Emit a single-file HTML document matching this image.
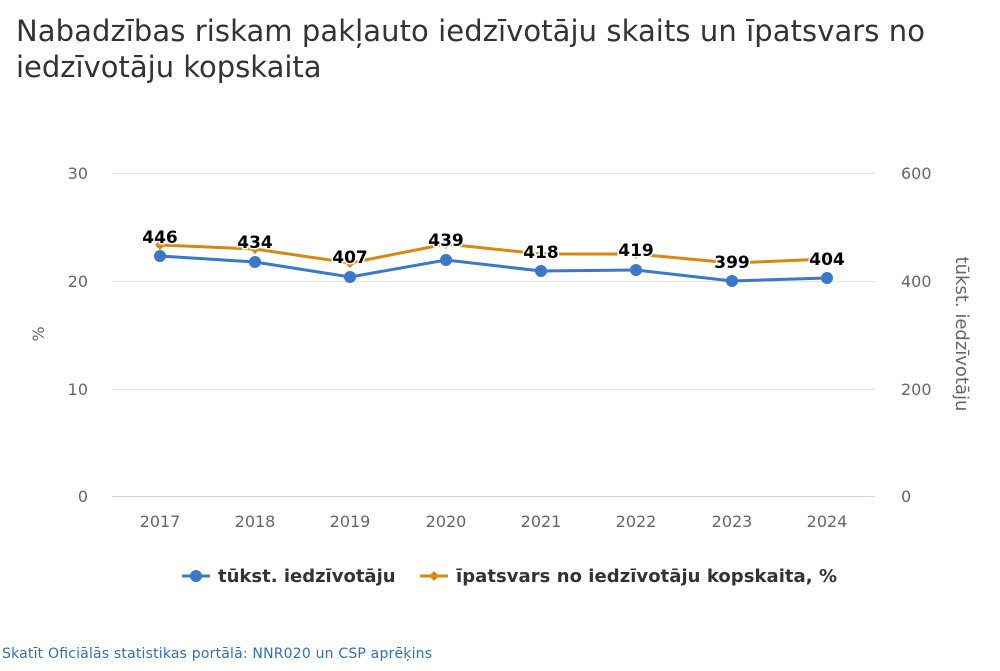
<!DOCTYPE html>
<html><head><meta charset="utf-8"><style>
body{margin:0;background:#fff;width:1000px;height:667px;overflow:hidden;font-family:"DejaVu Sans","Liberation Sans",sans-serif}
</style></head><body>
<svg width="1000" height="667" xmlns="http://www.w3.org/2000/svg" font-family="DejaVu Sans, Liberation Sans, sans-serif">
<text x="16" y="41" font-size="29" fill="#333" textLength="909">Nabadzības riskam pakļauto iedzīvotāju skaits un īpatsvars no</text>
<text x="16" y="77" font-size="29" fill="#333">iedzīvotāju kopskaita</text>
<g stroke="#e6e6e6" stroke-width="1">
<line x1="112" y1="173.5" x2="875" y2="173.5"/>
<line x1="112" y1="281.5" x2="875" y2="281.5"/>
<line x1="112" y1="389.5" x2="875" y2="389.5"/>
</g>
<line x1="112" y1="496.5" x2="875" y2="496.5" stroke="#ccd6eb"/>
<g font-size="16" fill="#666" text-anchor="end">
<text x="88" y="179">30</text><text x="88" y="287">20</text><text x="88" y="395">10</text><text x="88" y="502">0</text>
</g>
<g font-size="16" fill="#666" text-anchor="start">
<text x="901" y="179">600</text><text x="901" y="287">400</text><text x="901" y="395">200</text><text x="901" y="502">0</text>
</g>
<text transform="translate(44,334) rotate(-90)" font-size="16" fill="#666" text-anchor="middle">%</text>
<text transform="translate(956,334) rotate(90)" font-size="18" fill="#666" text-anchor="middle">tūkst. iedzīvotāju</text>
<g font-size="16" fill="#666" text-anchor="middle">
<text x="160" y="527">2017</text><text x="255" y="527">2018</text><text x="350" y="527">2019</text><text x="446" y="527">2020</text><text x="541" y="527">2021</text><text x="636" y="527">2022</text><text x="732" y="527">2023</text><text x="827" y="527">2024</text>
</g>
<polyline fill="none" stroke="#d6880f" stroke-width="3" points="160,245 255,249 350,263 446,244 541,254 636,254 732,263 827,259"/>
<g fill="#d6880f">
<path d="M160,240l5,5l-5,5l-5,-5z"/><path d="M255,244l5,5l-5,5l-5,-5z"/><path d="M350,258l5,5l-5,5l-5,-5z"/><path d="M446,239l5,5l-5,5l-5,-5z"/><path d="M541,249l5,5l-5,5l-5,-5z"/><path d="M636,249l5,5l-5,5l-5,-5z"/><path d="M732,258l5,5l-5,5l-5,-5z"/><path d="M827,254l5,5l-5,5l-5,-5z"/>
</g>
<polyline fill="none" stroke="#3a78c9" stroke-width="3" points="160,256 255,262 350,277 446,260 541,271 636,270 732,281 827,278"/>
<g fill="#3a78c9">
<circle cx="160" cy="256" r="6"/><circle cx="255" cy="262" r="6"/><circle cx="350" cy="277" r="6"/><circle cx="446" cy="260" r="6"/><circle cx="541" cy="271" r="6"/><circle cx="636" cy="270" r="6"/><circle cx="732" cy="281" r="6"/><circle cx="827" cy="278" r="6"/>
</g>
<g font-size="17" font-weight="bold" fill="#000" text-anchor="middle" stroke="#fff" stroke-width="3" paint-order="stroke">
<text x="160" y="243">446</text><text x="255" y="248">434</text><text x="350" y="263">407</text><text x="446" y="246">439</text><text x="541" y="258">418</text><text x="636" y="256">419</text><text x="732" y="268">399</text><text x="827" y="265">404</text>
</g>
<line x1="182" y1="576" x2="210" y2="576" stroke="#3a78c9" stroke-width="3"/><circle cx="196" cy="576" r="6" fill="#3a78c9"/>
<text x="218" y="582" font-size="18" font-weight="bold" fill="#333">tūkst. iedzīvotāju</text>
<line x1="420" y1="576" x2="448" y2="576" stroke="#d6880f" stroke-width="3"/><path d="M434,571l5,5l-5,5l-5,-5z" fill="#d6880f"/>
<text x="456" y="582" font-size="18" font-weight="bold" fill="#333" textLength="381">īpatsvars no iedzīvotāju kopskaita, %</text>
<text x="2" y="658" font-size="14" fill="#2f6fc0" textLength="430">Skatīt Oficiālās statistikas portālā: NNR020 un CSP aprēķins</text>
</svg>
</body></html>
